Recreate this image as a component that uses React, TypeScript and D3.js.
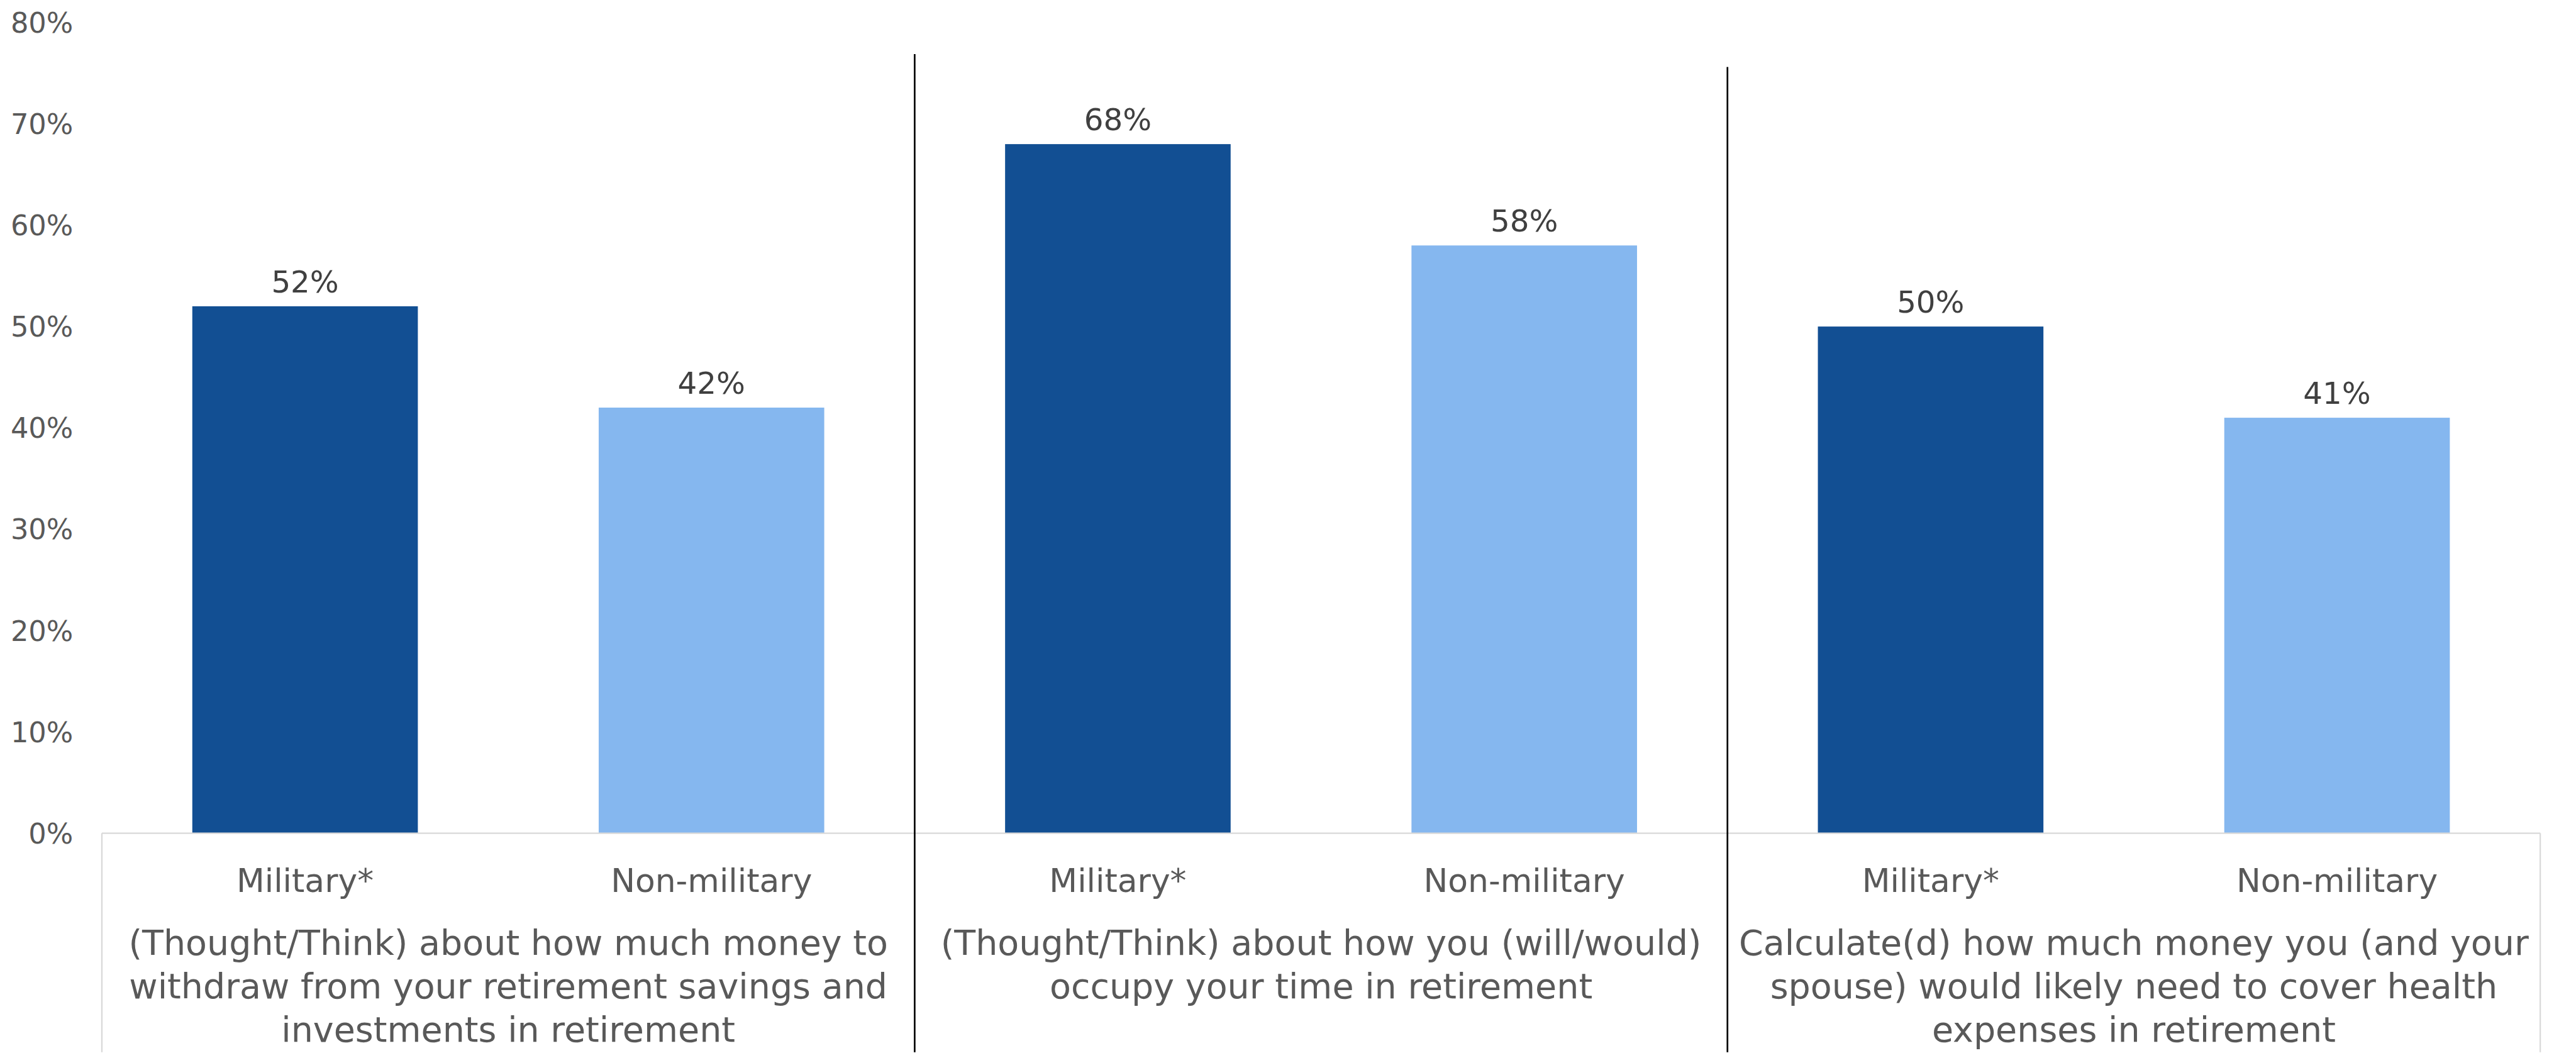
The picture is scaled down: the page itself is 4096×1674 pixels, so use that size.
import React from "react";
import * as d3 from "d3";

// ---- data ----
const groups = ["withdraw", "occupy", "health"];
const groupLabels: string[][] = [
  ["(Thought/Think) about how much money to", "withdraw from your retirement savings and", "investments in retirement"],
  ["(Thought/Think) about how you (will/would)", "occupy your time in retirement"],
  ["Calculate(d) how much money you (and your", "spouse) would likely need to cover health", "expenses in retirement"],
];
const seriesNames = ["Military*", "Non-military"];
const militaryValues = [52, 68, 50];
const nonMilitaryValues = [42, 58, 41];
const yTicks = [0, 10, 20, 30, 40, 50, 60, 70, 80];

// ---- layout (reference units, scaled by S) ----
const S = 0.895;
const H = 1869;
const plotLeft = 181;
const plotRight = 4513;
const plotTop = 40;
const plotBottom = 1480;
const separatorTops = [96, 119];
const colors = ["#124F93", "#85B7EF"];
const FONT = "'DejaVu Sans', sans-serif";
const groupLabelY = 1696;
const groupLineH = 77;

export default function App() {
  const cats: { key: string; g: number; s: number; v: number }[] = [];
  groups.forEach((g, gi) => {
    seriesNames.forEach((sn, si) => {
      cats.push({ key: g + "|" + sn, g: gi, s: si, v: si === 0 ? militaryValues[gi] : nonMilitaryValues[gi] });
    });
  });

  const x = d3
    .scaleBand<string>()
    .domain(cats.map((c) => c.key))
    .range([plotLeft, plotRight])
    .paddingInner(0.445)
    .paddingOuter(0.2225);
  const y = d3.scaleLinear().domain([0, 80]).range([plotBottom, plotTop]);
  const step = x.step();
  const groupWidth = step * seriesNames.length;

  return (
    <svg
      width={4096}
      height={1674}
      style={{ position: "absolute", left: 0, top: 0, background: "#fff" }}
      fontFamily={FONT}
    >
      <rect x={0} y={0} width={4096} height={1674} fill="#fff" />
      <g transform={`scale(${S})`}>
        {/* y tick labels */}
        {yTicks.map((t) => (
          <text
            key={t}
            x={130}
            y={y(t)}
            dy="0.36em"
            textAnchor="end"
            fontSize={50}
            fill="#595959"
          >
            {d3.format(".0%")(t / 100)}
          </text>
        ))}

        {/* bars */}
        {cats.map((c) => (
          <rect
            key={c.key}
            x={x(c.key)}
            y={y(c.v)}
            width={x.bandwidth()}
            height={y(0) - y(c.v)}
            fill={colors[c.s]}
          />
        ))}

        {/* data labels */}
        {cats.map((c) => (
          <text
            key={"l" + c.key}
            x={(x(c.key) as number) + x.bandwidth() / 2}
            y={y(c.v) - 25}
            textAnchor="middle"
            fontSize={54}
            fill="#404040"
          >
            {d3.format(".0%")(c.v / 100)}
          </text>
        ))}

        {/* category axis box */}
        <line x1={plotLeft} x2={plotRight} y1={plotBottom} y2={plotBottom} stroke="#D9D9D9" strokeWidth={2.5} />
        <line x1={plotLeft} x2={plotLeft} y1={plotBottom} y2={H} stroke="#D9D9D9" strokeWidth={2.5} />
        <line x1={plotRight} x2={plotRight} y1={plotBottom} y2={H} stroke="#D9D9D9" strokeWidth={2.5} />

        {/* series labels */}
        {cats.map((c) => (
          <text
            key={"c" + c.key}
            x={(x(c.key) as number) + x.bandwidth() / 2}
            y={1584}
            textAnchor="middle"
            fontSize={58}
            fill="#595959"
          >
            {seriesNames[c.s]}
          </text>
        ))}

        {/* group labels */}
        {groupLabels.map((lines, gi) => (
          <text
            key={"g" + gi}
            x={plotLeft + groupWidth * gi + groupWidth / 2}
            y={groupLabelY}
            textAnchor="middle"
            fontSize={62}
            fill="#595959"
          >
            {lines.map((ln, li) => (
              <tspan key={li} x={plotLeft + groupWidth * gi + groupWidth / 2} y={groupLabelY + li * groupLineH}>
                {ln}
              </tspan>
            ))}
          </text>
        ))}

        {/* group separators */}
        {groups.slice(1).map((g, i) => (
          <line
            key={"s" + g}
            x1={plotLeft + groupWidth * (i + 1)}
            x2={plotLeft + groupWidth * (i + 1)}
            y1={separatorTops[i]}
            y2={H}
            stroke="#000"
            strokeWidth={3}
          />
        ))}
      </g>
    </svg>
  );
}
